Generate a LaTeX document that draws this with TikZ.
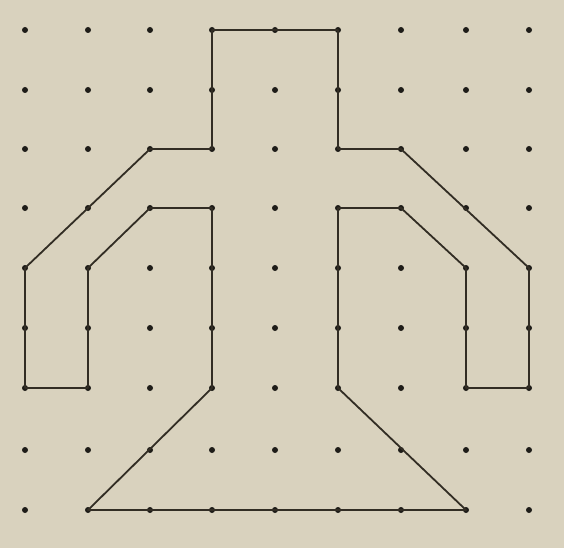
\documentclass[tikz,border=0pt]{standalone}
\definecolor{paper}{RGB}{217,210,190}
\definecolor{ink}{RGB}{50,45,36}
\definecolor{dotc}{RGB}{30,28,24}
\begin{document}
\begin{tikzpicture}[x=1pt,y=-1pt,
  gdot/.style={circle,fill=dotc,inner sep=0pt,minimum size=6pt},
  outline/.style={draw=ink,line width=1.8pt,line join=round}]
\fill[paper] (0,0) rectangle (564,548);
\useasboundingbox (0,0) rectangle (564,548);
\foreach \c/\x in {0/25,1/88,2/150,3/212,4/275,5/338,6/401,7/466,8/529}{
  \foreach \r/\y in {0/30,1/90,2/149,3/208,4/268,5/328,6/388,7/450,8/510}{
    \node[gdot] (d-\c-\r) at (\x,\y) {};
  }
}
\draw[outline] (d-3-0.center) -- (d-5-0.center) -- (d-5-2.center) -- (d-6-2.center)
  -- (d-8-4.center) -- (d-8-6.center) -- (d-7-6.center) -- (d-7-4.center)
  -- (d-6-3.center) -- (d-5-3.center) -- (d-5-6.center) -- (d-7-8.center)
  -- (d-1-8.center) -- (d-3-6.center) -- (d-3-3.center) -- (d-2-3.center)
  -- (d-1-4.center) -- (d-1-6.center) -- (d-0-6.center) -- (d-0-4.center)
  -- (d-2-2.center) -- (d-3-2.center) -- cycle;
\end{tikzpicture}
\end{document}
